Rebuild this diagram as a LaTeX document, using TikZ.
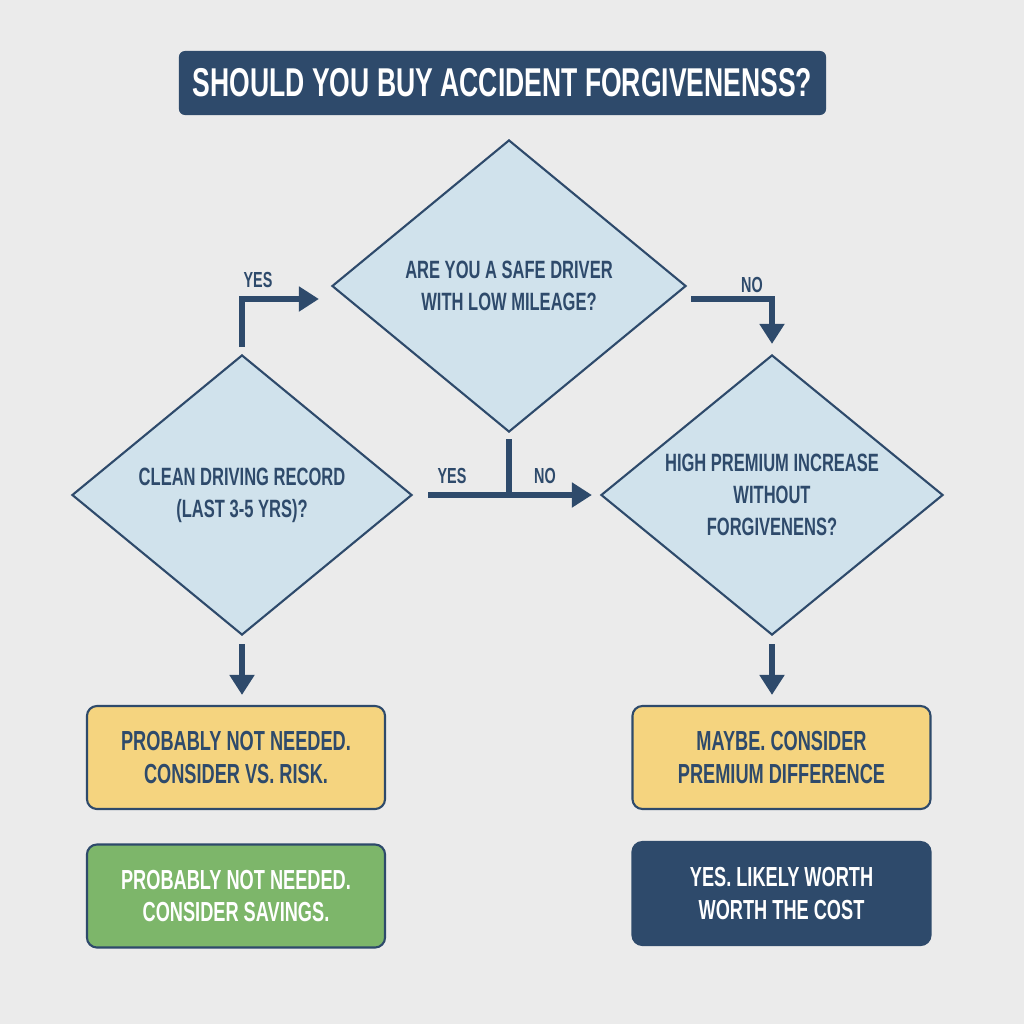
\documentclass[tikz,border=0pt]{standalone}
\usepackage{fontspec}
\setmainfont{Liberation Sans}[FakeStretch=0.66]
\usetikzlibrary{shapes.geometric,arrows.meta}
\definecolor{navy}{HTML}{2E4A6B}
\definecolor{diafill}{HTML}{D0E2EC}
\definecolor{paper}{HTML}{EBEBEB}
\definecolor{maybe}{HTML}{F5D47F}
\definecolor{saving}{HTML}{7DB66A}
\begin{document}
\begin{tikzpicture}[x=0.025cm,y=-0.025cm,
    decision/.style={diamond,draw=navy,line width=1.5pt,fill=diafill,text=navy,inner sep=0pt,align=center,font=\bfseries\fontsize{17.8}{22.7}\selectfont},
    outcome/.style={rectangle,rounded corners=0.25cm,draw=navy,line width=1.5pt,minimum width=7.45cm,minimum height=2.575cm,align=center,font=\bfseries\fontsize{19.6}{23.4}\selectfont},
    flow/.style={draw=navy,line width=4.25pt,-{Triangle[length=0.5cm,width=0.6cm]}},
    lbl/.style={text=navy,font=\bfseries\fontsize{15.5}{16}\selectfont}]
        %background and page size
        \fill[paper] (0,0) rectangle (1024,1024);
        \useasboundingbox (0,0) rectangle (1024,1024);

        %title
        \node[fill=navy,rounded corners=0.15cm,minimum width=16.175cm,minimum height=1.6cm,text=white,font=\bfseries\fontsize{28.6}{34}\selectfont] (title) at (502.5,83) {SHOULD YOU BUY ACCIDENT FORGIVENENSS?};

        %the three questions
        \node[decision,minimum width=8.85cm,minimum height=7.3cm] (safe) at (509,286) {ARE YOU A SAFE DRIVER\\WITH LOW MILEAGE?};
        \node[decision,minimum width=8.5cm,minimum height=7cm] (clean) at (242,495) {CLEAN DRIVING RECORD\\(LAST 3-5 YRS)?};
        \node[decision,inner sep=-0.5cm,minimum width=8.55cm,minimum height=7cm] (premium) at (772,495) {HIGH PREMIUM INCREASE\\WITHOUT\\FORGIVENENS?};

        %answers
        \node[outcome,fill=maybe,text=navy] (risk) at (236,757.5) {PROBABLY NOT NEEDED.\\CONSIDER VS. RISK.};
        \node[outcome,fill=saving,text=white] (savings) at (236,896) {PROBABLY NOT NEEDED.\\CONSIDER SAVINGS.};
        \node[outcome,fill=maybe,text=navy] (difference) at (781.5,757.5) {MAYBE. CONSIDER\\PREMIUM DIFFERENCE};
        \node[outcome,fill=navy,draw=navy,text=white] (worth) at (781.5,893.5) {YES. LIKELY WORTH\\WORTH THE COST};

        %arrows between the questions
        \draw[flow,shorten <=0.17cm,shorten >=0.3cm] (clean.north) |- ([yshift=-0.325cm]safe.west);
        \node[lbl] (yes1) at (258,280) {YES};
        \draw[flow,shorten >=0.25cm] ([shift={(0.1cm,-0.325cm)}]safe.east) -| (premium.north);
        \node[lbl] (no1) at (752,285) {NO};
        \coordinate (tee) at (safe.south |- clean.east);
        \draw[navy,line width=4.25pt,shorten <=0.15cm] (safe.south) -- (tee);
        \draw[flow,shorten <=0.38cm,shorten >=0.2cm] (clean.east) -- (premium.west);
        \node[lbl] (yes2) at (452,476) {YES};
        \node[lbl] (no2) at (545,476) {NO};

        %arrows down to the answers
        \draw[flow,shorten <=0.2cm,shorten >=0.25cm] (clean.south) -- (clean.south |- risk.north);
        \draw[flow,shorten <=0.2cm,shorten >=0.25cm] (premium.south) -- (premium.south |- difference.north);
\end{tikzpicture}
\end{document}
